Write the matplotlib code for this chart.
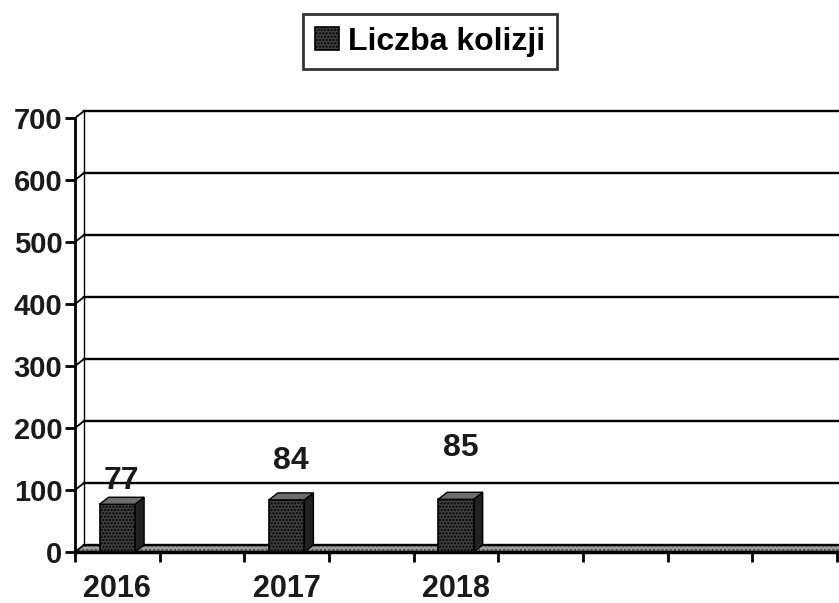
import numpy as np
import matplotlib
matplotlib.use('Agg')
import matplotlib.pyplot as plt
from matplotlib.patches import Polygon

plt.rcParams['font.family'] = ['Liberation Sans', 'DejaVu Sans']
plt.rcParams['font.weight'] = 'bold'

# category slots on the x axis (only every other one carries a year)
slots = ['2016', '', '2017', '', '2018', '', '', '', '']
years = ['2016', '2017', '2018']
counts = [77, 84, 85]
y_ticks = [0, 100, 200, 300, 400, 500, 600, 700]
series_name = 'Liczba kolizji'

W, H = 839, 603
fig = plt.figure(figsize=(W / 100, H / 100), dpi=100)
ax_rect = [0.0894, 0.0846, 0.908, 0.7197]
ax = fig.add_axes(ax_rect)
ax.set_xlim(-0.5, len(slots) - 0.5)
ax.set_ylim(0, 700)

# 3d depth of the chart, in pixels, converted to data units
px_x = ax_rect[2] * W / len(slots)
px_y = ax_rect[3] * H / 700
dx = 9 / px_x
dy = 7 / px_y
x0, x1 = -0.5, len(slots) - 0.5

# floor
ax.add_patch(Polygon([(x0, 0), (x1 + 1, 0), (x1 + 1 + dx, dy), (x0 + dx, dy)],
                     closed=True, facecolor='#9c9c9c', edgecolor='#4a4a4a',
                     lw=0.8, hatch='....', clip_on=False, zorder=1))

# back wall grid
for v in y_ticks:
    ax.plot([x0 + dx, x1 + 1], [v + dy, v + dy], color='black', lw=1.7,
            clip_on=False, zorder=1.5)
    ax.plot([x0, x0 + dx], [v, v + dy], color='black', lw=1.3,
            clip_on=False, zorder=1.5)
ax.plot([x0 + dx, x0 + dx], [dy, 700 + dy], color='black', lw=1.0,
        clip_on=False, zorder=1.5)

# bars
xpos = [slots.index(y) for y in years]
bw = 0.42
bars = ax.bar(xpos, counts, width=bw, color='#3e3e3e', edgecolor='black',
              lw=1.2, hatch='.....', zorder=4, label=series_name)
for x, c in zip(xpos, counts):
    l, r = x - bw / 2, x + bw / 2
    ax.add_patch(Polygon([(r, 0), (r + dx, dy), (r + dx, c + dy), (r, c)],
                         facecolor='#222222', edgecolor='black', lw=1.0, zorder=3.5))
    ax.add_patch(Polygon([(l, c), (r, c), (r + dx, c + dy), (l + dx, c + dy)],
                         facecolor='#6e6e6e', edgecolor='black', lw=1.0, zorder=4.5))

# value labels (placed by hand in the original)
label_lift = [1, 12, 21]
for x, c, lift in zip(xpos, counts, label_lift):
    ax.annotate(str(c), (x + dx / 2, c + dy), xytext=(0, lift),
                textcoords='offset points', ha='center', va='bottom',
                fontsize=23, fontweight='bold', color='#1a1a1a', zorder=6)

# axes styling
for s in ['top', 'right']:
    ax.spines[s].set_visible(False)
ax.spines['left'].set_linewidth(2)
ax.spines['bottom'].set_linewidth(2.5)
ax.spines['bottom'].set_bounds(x0, x1 + 1)
ax.spines['bottom'].set_clip_on(False)
ax.spines['bottom'].set_zorder(2)

ax.set_yticks(y_ticks)
ax.set_yticklabels([str(v) for v in y_ticks])
ax.tick_params(axis='y', length=7, width=2, pad=2, labelsize=21,
               colors='black')
ax.set_xticks(range(len(slots)))
ax.set_xticklabels(slots)
ax.set_xticks(np.arange(len(slots) + 1) - 0.5, minor=True)
ax.tick_params(axis='x', which='major', length=0, pad=16, labelsize=22)
ax.tick_params(axis='x', which='minor', length=7, width=2, direction='out')
for t in ax.get_xticklabels() + ax.get_yticklabels():
    t.set_fontweight('bold')
    t.set_color('#1a1a1a')

leg = fig.legend(handles=[bars], labels=[series_name], loc='upper center',
                 bbox_to_anchor=(0.5125, 0.976), fontsize=23, frameon=True,
                 fancybox=False, handlelength=0.75, handleheight=0.75,
                 handletextpad=0.3, borderpad=0.38, borderaxespad=0)
leg.get_frame().set_edgecolor('black')
leg.get_frame().set_linewidth(2)
for t in leg.get_texts():
    t.set_fontweight('bold')

fig.savefig('out.png', dpi=100)
